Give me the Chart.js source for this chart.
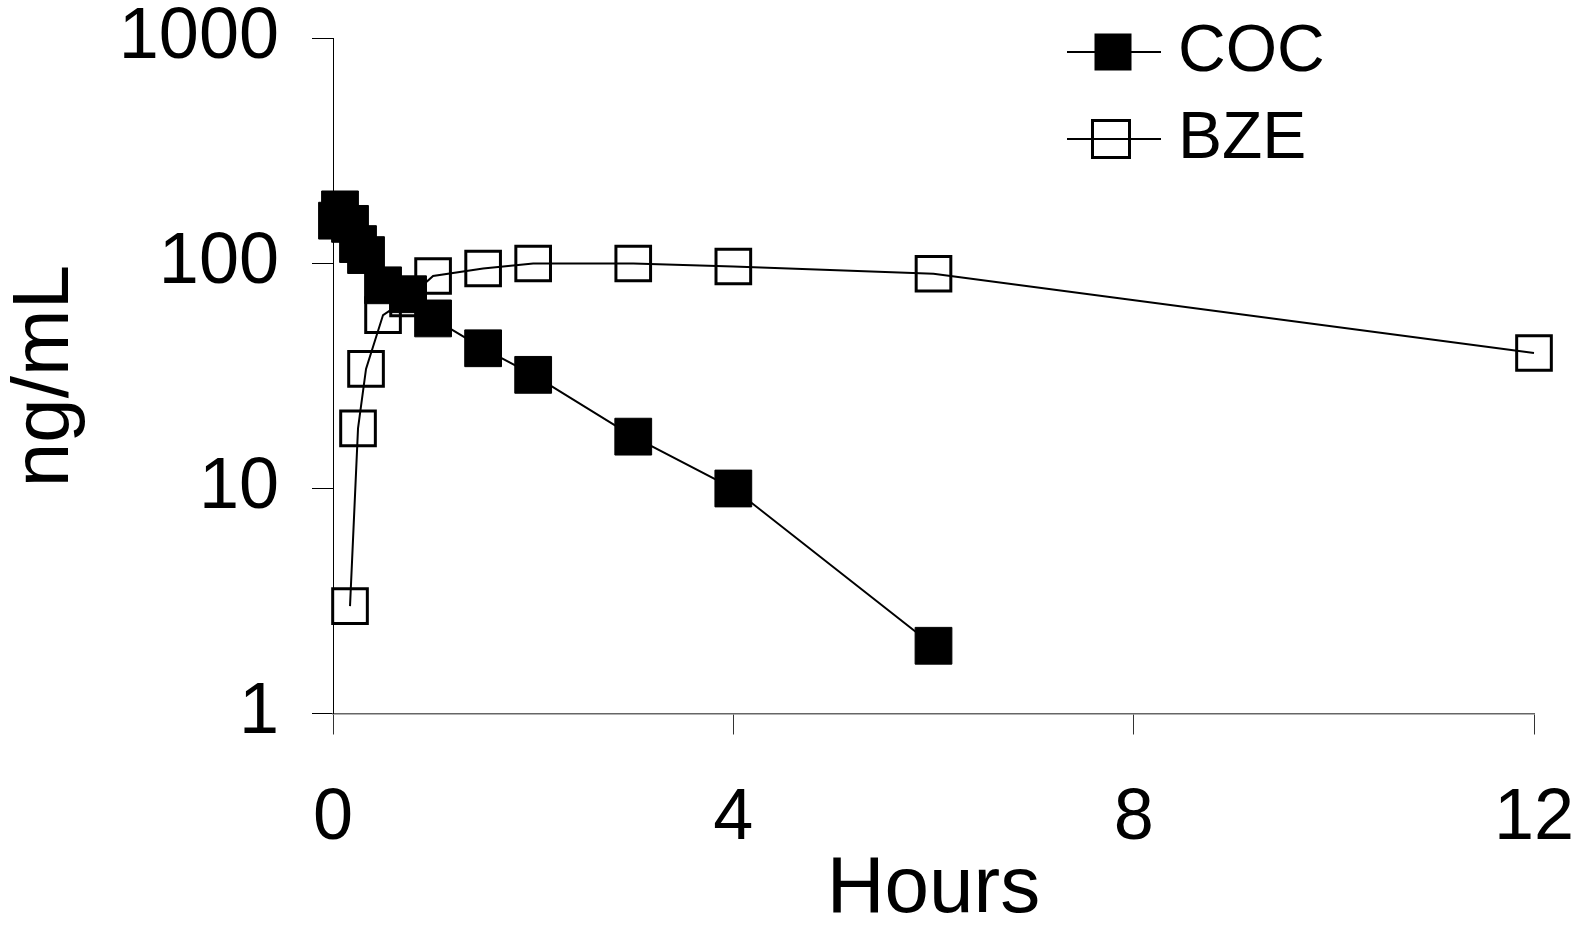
<!DOCTYPE html>
<html>
<head>
<meta charset="utf-8">
<script src="https://cdn.jsdelivr.net/npm/chart.js@4"></script>
<style>
  html, body { margin: 0; padding: 0; background: #fff; }
  #wrap { width: 1588px; height: 926px; }
</style>
</head>
<body>
<div id="wrap"><canvas id="pkChart"></canvas></div>
<script>
const cocHours = [0.04, 0.07, 0.17, 0.25, 0.33, 0.5, 0.75, 1, 1.5, 2, 3, 4, 6];
const cocValues = [155, 174, 150, 122, 109, 80, 73, 57, 42, 32, 17, 10, 2];
const bzeHours = [0.17, 0.25, 0.33, 0.5, 0.75, 1, 1.5, 2, 3, 4, 6, 12];
const bzeValues = [3, 18.5, 34, 59, 70, 88, 95, 100, 100, 97, 90, 40];
const yTicks = [1, 10, 100, 1000];
const xTicks = [0, 4, 8, 12];

const font = 'Liberation Sans, Arial, sans-serif';

function toPoints(xs, ys) {
    return xs.map((x, i) => ({ x: x, y: ys[i] }));
}

// legend with a line through the marker, like the original
const lineLegend = {
    id: 'lineLegend',
    afterDraw(chart) {
        const ctx = chart.ctx;
        const rows = [52, 139];
        ctx.save();
        chart.data.datasets.forEach((ds, i) => {
            const y = rows[i];
            ctx.strokeStyle = '#000';
            ctx.lineWidth = 2;
            ctx.beginPath();
            ctx.moveTo(1067, y);
            ctx.lineTo(1161, y);
            ctx.stroke();
            const s = 37;
            if (ds.pointBackgroundColor === '#000') {
                ctx.fillStyle = '#000';
                ctx.fillRect(1113 - s / 2, y - s / 2, s, s);
            } else {
                ctx.lineWidth = 3;
                ctx.strokeRect(1111 - s / 2, y - s / 2, s, s);
            }
            ctx.fillStyle = '#000';
            ctx.font = '66px ' + font;
            ctx.textBaseline = 'middle';
            ctx.textAlign = 'left';
            ctx.fillText(ds.label, 1178, y + 1);
        });
        ctx.restore();
    }
};

new Chart(document.getElementById('pkChart'), {
    type: 'scatter',
    data: {
        datasets: [
            {
                label: 'COC',
                data: toPoints(cocHours, cocValues),
                showLine: true,
                clip: false,
                borderColor: '#000',
                borderWidth: 2,
                pointStyle: 'rect',
                pointRadius: 26,
                pointBackgroundColor: '#000',
                pointBorderColor: '#000',
                pointBorderWidth: 1
            },
            {
                label: 'BZE',
                data: toPoints(bzeHours, bzeValues),
                showLine: true,
                clip: false,
                borderColor: '#000',
                borderWidth: 2,
                pointStyle: 'rect',
                pointRadius: 24.5,
                pointBackgroundColor: 'rgba(255,255,255,0)',
                pointBorderColor: '#000',
                pointBorderWidth: 3
            }
        ]
    },
    options: {
        responsive: true,
        maintainAspectRatio: false,
        animation: false,
        layout: {
            padding: { top: 38.5, right: 54, left: 0, bottom: 0 }
        },
        scales: {
            x: {
                type: 'linear',
                min: 0,
                max: 12,
                afterBuildTicks: (scale) => { scale.ticks = xTicks.map(v => ({ value: v })); },
                afterFit: (scale) => {
                    scale.height = 212.5;
                    scale.paddingLeft = 0;
                    scale.paddingRight = 0;
                },
                ticks: {
                    color: '#000',
                    font: { family: font, size: 72, lineHeight: 1 },
                    padding: 49,
                    maxRotation: 0
                },
                grid: {
                    drawOnChartArea: false,
                    drawTicks: true,
                    tickLength: 21,
                    color: '#333',
                    lineWidth: 1
                },
                border: { display: true, color: '#666', width: 1.5 },
                title: {
                    display: true,
                    text: 'Hours',
                    color: '#000',
                    font: { family: font, size: 80, lineHeight: 0.9 },
                    padding: 0
                }
            },
            y: {
                type: 'logarithmic',
                min: 1,
                max: 1000,
                afterBuildTicks: (scale) => { scale.ticks = yTicks.map(v => ({ value: v })); },
                afterFit: (scale) => {
                    scale.width = 333;
                    scale.paddingTop = 0;
                    scale.paddingBottom = 0;
                },
                ticks: {
                    color: '#000',
                    font: { family: font, size: 72, lineHeight: 1 },
                    padding: 33,
                    callback: (v) => String(v)
                },
                grid: {
                    drawOnChartArea: false,
                    drawTicks: true,
                    tickLength: 21,
                    color: '#000',
                    lineWidth: 1
                },
                border: { display: true, color: '#000', width: 1 },
                title: {
                    display: true,
                    text: 'ng/mL',
                    color: '#000',
                    font: { family: font, size: 80, lineHeight: 1.15 },
                    padding: 0
                }
            }
        },
        plugins: {
            legend: { display: false },
            tooltip: { enabled: false }
        }
    },
    plugins: [lineLegend]
});
</script>
</body>
</html>
